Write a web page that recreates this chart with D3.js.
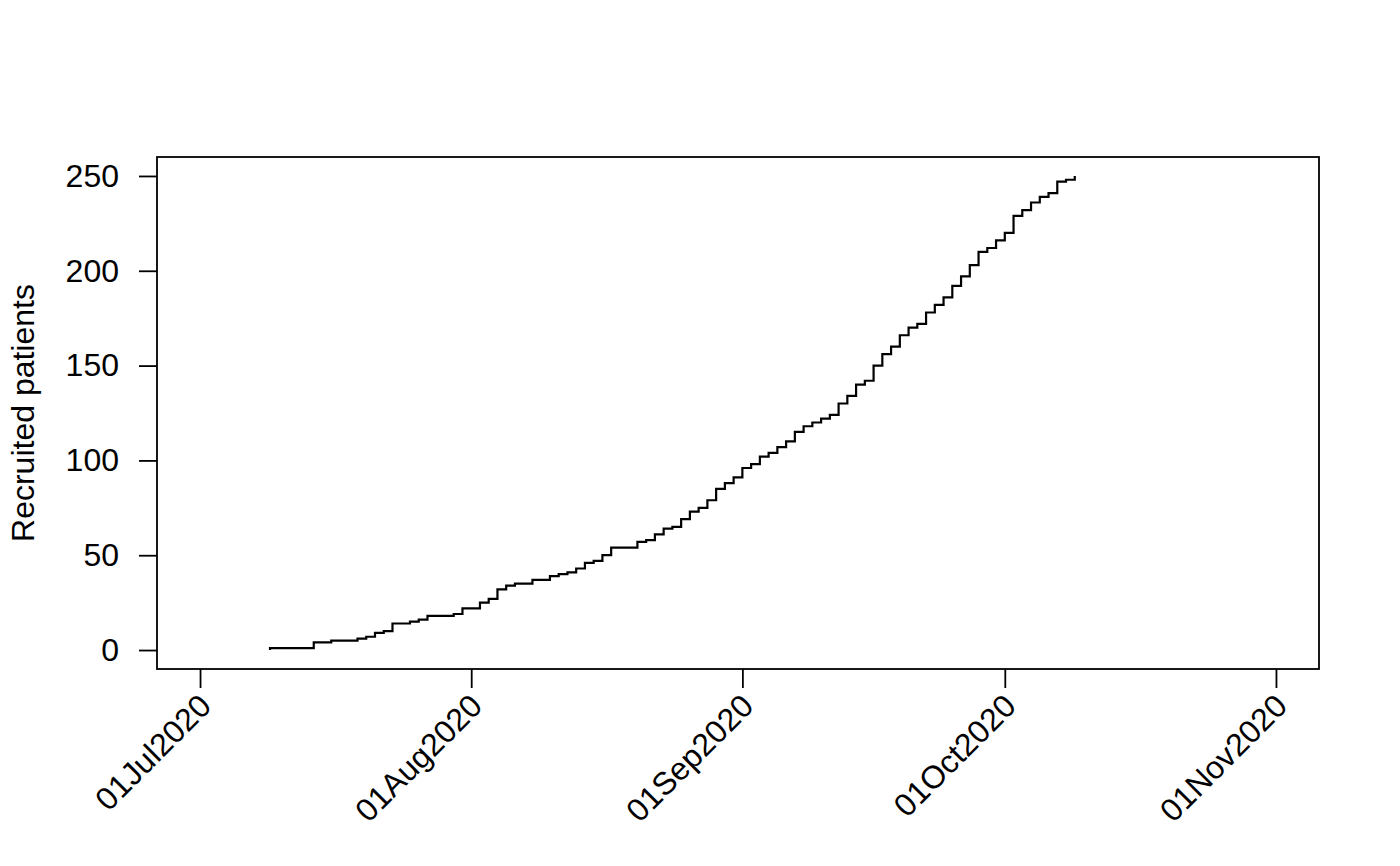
<!DOCTYPE html>
<html>
<head>
<meta charset="utf-8">
<script src="https://cdn.jsdelivr.net/npm/d3@7"></script>
<style>
  html, body { margin: 0; padding: 0; background: #fff; }
  svg { display: block; }
  text { font-family: "Liberation Sans", Arial, Helvetica, sans-serif; fill: #000; }
</style>
</head>
<body>
<svg id="chart" width="1400" height="866"></svg>
<script>
// ---- data ----
const dates = [
  "2020-07-09","2020-07-09","2020-07-14","2020-07-16","2020-07-19","2020-07-20","2020-07-21","2020-07-22",
  "2020-07-23","2020-07-25","2020-07-26","2020-07-27","2020-07-30","2020-07-31","2020-08-02","2020-08-03",
  "2020-08-04","2020-08-05","2020-08-06","2020-08-08","2020-08-10","2020-08-11","2020-08-12","2020-08-13",
  "2020-08-14","2020-08-15","2020-08-16","2020-08-17","2020-08-20","2020-08-21","2020-08-22","2020-08-23",
  "2020-08-24","2020-08-25","2020-08-26","2020-08-27","2020-08-28","2020-08-29","2020-08-30","2020-08-31",
  "2020-09-01","2020-09-02","2020-09-03","2020-09-04","2020-09-05","2020-09-06","2020-09-07","2020-09-08",
  "2020-09-09","2020-09-10","2020-09-11","2020-09-12","2020-09-13","2020-09-14","2020-09-15","2020-09-16",
  "2020-09-17","2020-09-18","2020-09-19","2020-09-20","2020-09-21","2020-09-22","2020-09-23","2020-09-24",
  "2020-09-25","2020-09-26","2020-09-27","2020-09-28","2020-09-29","2020-09-30","2020-10-01","2020-10-02",
  "2020-10-03","2020-10-04","2020-10-05","2020-10-06","2020-10-07","2020-10-08","2020-10-09"
];
const recruited = [
  0, 1, 4, 5, 6, 7, 9, 10,
  14, 15, 16, 18, 19, 22, 25, 27,
  32, 34, 35, 37, 39, 40, 41, 43,
  46, 47, 50, 54, 57, 58, 61, 64,
  65, 69, 73, 75, 79, 85, 88, 91,
  96, 98, 102, 104, 107, 110, 115, 118,
  120, 122, 124, 130, 134, 140, 142, 150,
  156, 160, 166, 170, 172, 178, 182, 186,
  192, 197, 203, 210, 212, 216, 220, 229,
  232, 236, 239, 241, 247, 248, 250
];
const xTickDates = ["2020-07-01","2020-08-01","2020-09-01","2020-10-01","2020-11-01"];
const xTickLabels = ["01Jul2020","01Aug2020","01Sep2020","01Oct2020","01Nov2020"];
const yTicks = [0, 50, 100, 150, 200, 250];
const yLabel = "Recruited patients";

// ---- layout ----
const svg = d3.select("#chart");
const plot = { left: 157, right: 1319, top: 157, bottom: 669 };
const fontSize = 32;
const parse = d3.utcParse("%Y-%m-%d");

const xStart = parse(xTickDates[0]), xEnd = parse(xTickDates[xTickDates.length - 1]);
const span = xEnd - xStart;
const x = d3.scaleUtc()
  .domain([new Date(+xStart - 0.04 * span), new Date(+xEnd + 0.04 * span)])
  .range([plot.left, plot.right]);
const y = d3.scaleLinear()
  .domain([-10, 260])
  .range([plot.bottom, plot.top]);

const data = dates.map((d, i) => ({ date: parse(d), n: recruited[i] }));

// step line
const line = d3.line()
  .x(d => x(d.date))
  .y(d => y(d.n))
  .curve(d3.curveStepAfter);
svg.append("path")
  .datum(data)
  .attr("d", line)
  .attr("fill", "none")
  .attr("stroke", "#000")
  .attr("stroke-width", 2.2);

// box
svg.append("rect")
  .attr("x", plot.left).attr("y", plot.top)
  .attr("width", plot.right - plot.left).attr("height", plot.bottom - plot.top)
  .attr("fill", "none").attr("stroke", "#000").attr("stroke-width", 1.8);

// y axis
const yAxis = d3.axisLeft(y).tickValues(yTicks).tickSize(18).tickPadding(20).tickFormat(d3.format("d"));
const gy = svg.append("g").attr("transform", `translate(${plot.left},0)`).call(yAxis);
gy.select(".domain").remove();
gy.selectAll(".tick line").attr("stroke", "#000").attr("stroke-width", 1.8);
gy.selectAll(".tick text").attr("font-size", fontSize).attr("font-family", "Liberation Sans, Arial, sans-serif").attr("fill", "#000");

// x axis
const xAxis = d3.axisBottom(x).tickValues(xTickDates.map(parse)).tickSize(19).tickFormat("");
const gx = svg.append("g").attr("transform", `translate(0,${plot.bottom})`).call(xAxis);
gx.select(".domain").remove();
gx.selectAll(".tick line").attr("stroke", "#000").attr("stroke-width", 1.8);

svg.append("g").selectAll("text")
  .data(xTickDates)
  .join("text")
  .attr("transform", d => `translate(${x(parse(d)) + 13},708) rotate(-45)`)
  .attr("text-anchor", "end")
  .attr("font-size", fontSize)
  .text((d, i) => xTickLabels[i]);

// y label
svg.append("text")
  .attr("transform", `translate(34,${(plot.top + plot.bottom) / 2}) rotate(-90)`)
  .attr("text-anchor", "middle")
  .attr("font-size", fontSize)
  .text(yLabel);
</script>
</body>
</html>
